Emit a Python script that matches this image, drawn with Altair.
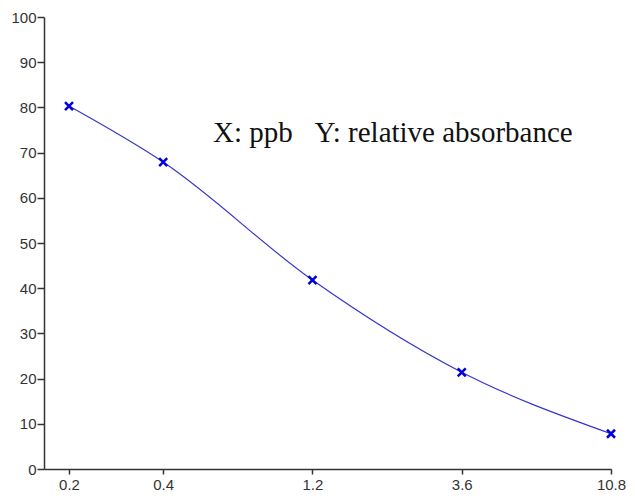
import altair as alt
import pandas as pd

conc = [0.2, 0.4, 1.2, 3.6, 10.8]
absorbance = [80.3, 67.9, 41.8, 21.4, 7.8]
x_ticks = [0.2, 0.4, 1.2, 3.6, 10.8]
y_ticks = list(range(0, 101, 10))
note_text = ["X: ppb\u00a0\u00a0\u00a0Y: relative absorbance"]
note_x = [0.577]
note_y = [72.3]

df = pd.DataFrame({"conc": conc, "abs": absorbance})
note = pd.DataFrame({"x": note_x, "y": note_y, "t": note_text})

xscale = alt.Scale(type="log", domain=[0.1664, 10.8], nice=False)
yscale = alt.Scale(domain=[0, 100], nice=False)

xaxis = alt.Axis(values=x_ticks, format=".1f", title=None, grid=False,
                 tickSize=5, labelPadding=3, labelFontSize=15, labelFont="Liberation Sans",
                 labelColor="#333333", domainColor="#333333", tickColor="#333333",
                 domainWidth=1.5, tickWidth=1.5, labelFlush=False, labelOverlap=False)
yaxis = alt.Axis(values=y_ticks, title=None, grid=False,
                 tickSize=7, labelPadding=1, labelFontSize=15, labelFont="Liberation Sans",
                 labelColor="#333333", domainColor="#333333", tickColor="#333333",
                 domainWidth=1.5, tickWidth=1.5, labelFlush=False, labelOverlap=False)

base = alt.Chart(df)

line = base.mark_line(interpolate="monotone", color="#3535cc", strokeWidth=1.2).encode(
    x=alt.X("conc:Q", scale=xscale, axis=xaxis),
    y=alt.Y("abs:Q", scale=yscale, axis=yaxis),
)

pts = base.mark_point(shape="M-1,-1L1,1M1,-1L-1,1", size=64, filled=False,
                      color="#0000dd", strokeWidth=2.5, opacity=1).encode(
    x=alt.X("conc:Q", scale=xscale),
    y=alt.Y("abs:Q", scale=yscale),
)

text = alt.Chart(note).mark_text(align="left", baseline="alphabetic", font="Liberation Serif",
                                 fontSize=29, color="#111111").encode(
    x=alt.X("x:Q", scale=xscale),
    y=alt.Y("y:Q", scale=yscale),
    text="t:N",
)

chart = (line + pts + text).properties(
    width=567, height=452,
    autosize=alt.AutoSizeParams(type="none"),
    padding={"left": 36, "top": 9, "right": 16, "bottom": 22},
).configure_view(stroke=None)

chart.save("out.html", embed_options={"renderer": "svg", "actions": False})
